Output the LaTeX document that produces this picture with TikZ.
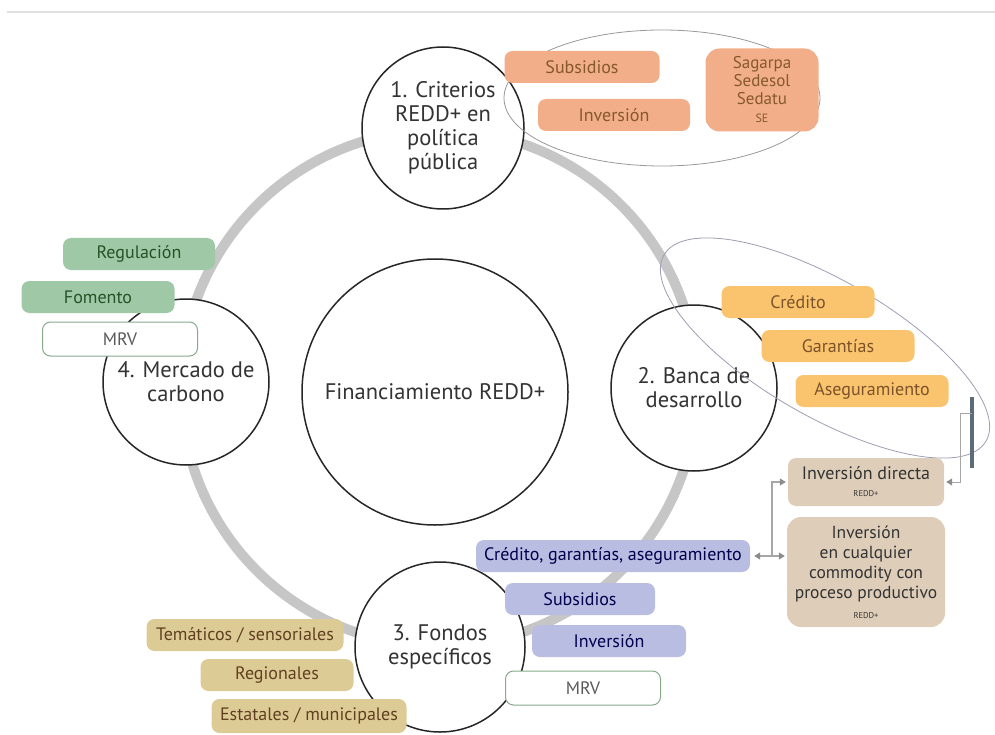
\documentclass[tikz,border=0pt]{standalone}
\usepackage{fontspec}
\setmainfont{PT Sans}
\usepackage{tikz}
\usepackage{xcolor}
\usetikzlibrary{arrows.meta}
\definecolor{ringgrey}{HTML}{C6C6C6}
\definecolor{salmon}{HTML}{F2AE88}
\definecolor{amber}{HTML}{FAC46E}
\definecolor{sage}{HTML}{9FC8A6}
\definecolor{lavender}{HTML}{B9BDE2}
\definecolor{khaki}{HTML}{DDCB96}
\definecolor{sand}{HTML}{DECEB9}
\definecolor{slate}{HTML}{5B6B78}
\definecolor{haze}{HTML}{9C9EB2}
\begin{document}
\begin{tikzpicture}[x=1pt,y=1pt,
    circ/.style = {shape=circle, draw=black!85, line width=1.5pt,
      fill=white, inner sep=0pt, align=center, text=black!80,
      font=\fontsize{22.5}{24}\selectfont},
    box/.style = {shape=rectangle, rounded corners=8pt,
      minimum width=153, minimum height=32, inner sep=1pt,
      align=center, font=\fontsize{18}{18}\selectfont},
    orange/.style = {box, fill=salmon, text=brown!70!black},
    yellow/.style = {box, fill=amber, text=brown!65!black},
    green/.style = {box, fill=sage, text=green!20!black!85},
    lilac/.style = {box, fill=lavender, text=blue!30!black},
    tan/.style = {box, fill=khaki, text=brown!50!black},
    beige/.style = {box, fill=sand, text=black!80},
    mrv/.style = {box, fill=white, draw=sage!85!black, line width=1pt,
      minimum width=155, minimum height=34, text=black!65},
    arr/.style = {draw=black!35, line width=1.2pt,
      arrows={-Triangle[width=7pt,length=6pt,color=black!45]}},
    twoway/.style = {arr,
      arrows={Triangle[width=7pt,length=6pt,color=black!45]-Triangle[width=7pt,length=6pt,color=black!45]}}
    ]
    \useasboundingbox (0,0) rectangle (995,-735);
    \draw[black!12, line width=2pt] (7,-12) -- (995,-12);

    \coordinate (hub) at (439,-388);
    \draw[ringgrey, line width=10pt] (hub) circle (258);

    \node[circ, minimum size=162] (criterios) at (443,-128)
        {1. Criterios\\REDD+ en\\política\\pública};
    \node[circ, minimum size=166] (banca) at (694,-388)
        {2. Banca de\\desarrollo};
    \node[circ, minimum size=170] (fondos) at (440,-647)
        {3. Fondos\\específicos};
    \node[circ, minimum size=166] (mercado) at (186,-382)
        {4. Mercado de\\carbono};
    \node[circ, minimum size=266] (centro) at (435,-392)
        {Financiamiento REDD+};

    \draw[black!40, line width=0.8pt] (662,-98) ellipse [x radius=158, y radius=68];
    \draw[haze, line width=0.8pt, rotate around={-30:(825,-348)}]
        (825,-348) ellipse [x radius=186, y radius=68];

    \node[orange, minimum width=155] (subpol) at (582,-67) {Subsidios};
    \node[orange, minimum width=152] (invpol) at (614,-115) {Inversión};
    \node[orange, minimum width=113, minimum height=83, rounded corners=14pt,
        font=\fontsize{17}{18}\selectfont] (secret) at (762,-90)
        {Sagarpa\\Sedesol\\Sedatu\\{\fontsize{12}{13}\selectfont SE}};

    \node[yellow] (credito) at (798,-302) {Crédito};
    \node[yellow] (garantias) at (838,-346) {Garantías};
    \node[yellow] (aseg) at (872,-391) {Aseguramiento};

    \node[green, minimum width=152] (regul) at (139,-254) {Regulación};
    \node[green] (fomento) at (98,-297) {Fomento};
    \node[mrv] (mrvmerc) at (120,-339) {MRV};

    \node[lilac, minimum width=274] (cga) at (613,-556)
        {Crédito, garantías, aseguramiento};
    \node[lilac, minimum width=150] (subfon) at (580,-599) {Subsidios};
    \node[lilac, minimum width=154] (invfon) at (609,-641) {Inversión};
    \node[mrv] (mrvfon) at (583,-688) {MRV};

    \node[tan, minimum width=197] (tematicos) at (245,-635) {Temáticos / sensoriales};
    \node[tan] (regionales) at (277,-675) {Regionales};
    \node[tan, minimum width=195, minimum height=34] (estatales) at (309,-716)
        {Estatales / municipales};

    \node[beige, minimum width=156, minimum height=48] (invdir) at (866,-482)
        {Inversión directa\\[-1pt]{\fontsize{8.5}{10}\selectfont REDD+}};
    \node[beige, minimum width=158, minimum height=110, rounded corners=14pt,
        font=\fontsize{17.5}{20}\selectfont] (invcom) at (866,-572)
        {Inversión\\en cualquier\\commodity con\\proceso productivo\\{\fontsize{8.5}{10}\selectfont REDD+}};

    \coordinate (split) at (772,-556);
    \draw[twoway, shorten <=4pt, shorten >=2pt] (cga.east) -- (cga.east -| invcom.west);
    \draw[arr, shorten >=2pt] (split) |- (invdir.west);

    \coordinate (bartop) at (972,-397);
    \coordinate (barbot) at (972,-468);
    \coordinate (tap) at (972,-413);
    \draw[slate, line width=3.5pt] (bartop) -- (barbot);
    \draw[arr, line width=1pt, shorten >=2pt] (tap) -- ++(-12,0) |- (invdir.east);
\end{tikzpicture}
\end{document}
